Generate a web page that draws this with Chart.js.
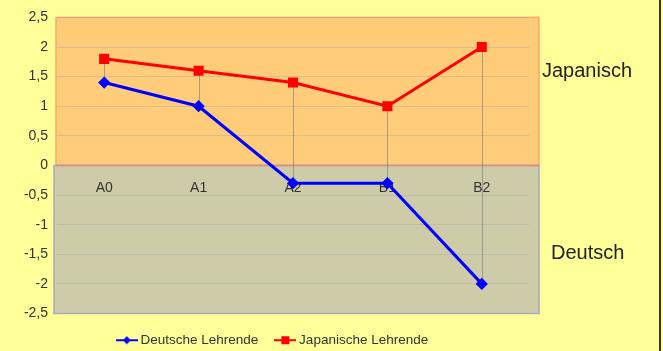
<!DOCTYPE html>
<html lang="de">
<head>
<meta charset="UTF-8">
<title>Lehrende</title>
<script src="https://cdn.jsdelivr.net/npm/chart.js"></script>
<style>
  html, body { margin: 0; padding: 0; background: #FFFF99; }
  canvas { display: block; }
</style>
</head>
<body>
<canvas id="chart" width="663" height="351"></canvas>
<script>
const categories = ['A0', 'A1', 'A2', 'B1', 'B2'];
const deutscheLehrende = [1.4, 1.0, -0.3, -0.3, -2.0];
const japanischeLehrende = [1.8, 1.6, 1.4, 1.0, 2.0];
const yMin = -2.5, yMax = 2.5, yStep = 0.5;
const zoneLabels = ['Japanisch', 'Deutsch'];

const FONT = '"Liberation Sans", Arial, sans-serif';

// small legend symbols: line with the series marker in the middle
function legendSymbol(color, shape) {
  const c = document.createElement('canvas');
  c.width = 22; c.height = 10;
  const g = c.getContext('2d');
  g.strokeStyle = color; g.fillStyle = color; g.lineWidth = 2;
  g.beginPath(); g.moveTo(0, 5); g.lineTo(22, 5); g.stroke();
  g.beginPath();
  if (shape === 'diamond') {
    g.moveTo(11, 1); g.lineTo(15, 5); g.lineTo(11, 9); g.lineTo(7, 5);
  } else {
    g.rect(7, 1, 8, 8);
  }
  g.fill();
  return c;
}

const backdrop = {
  id: 'backdrop',
  beforeDraw(chart) {
    const { ctx, chartArea: a, scales: { y } } = chart;
    const zero = y.getPixelForValue(0);
    // the coloured panel runs a little past the last category
    const left = a.left - 1, right = a.right + 10;
    ctx.save();
    ctx.fillStyle = '#FFFF99';
    ctx.fillRect(0, 0, chart.width, chart.height);
    ctx.lineWidth = 1.5;
    // upper zone
    ctx.fillStyle = '#FFCC7A';
    ctx.fillRect(left, a.top, right - left, zero - a.top);
    ctx.strokeStyle = '#FFA868';
    ctx.strokeRect(left, a.top, right - left, zero - a.top);
    // lower zone
    ctx.fillStyle = '#CECCA8';
    ctx.fillRect(left - 2, zero, right - left + 2, a.bottom - zero);
    ctx.strokeStyle = '#A8A8C0';
    ctx.strokeRect(left - 2, zero, right - left + 2, a.bottom - zero);
    ctx.strokeStyle = '#F08070';
    ctx.beginPath(); ctx.moveTo(left, zero); ctx.lineTo(right, zero); ctx.stroke();
    // frame edge on the right
    ctx.fillStyle = '#333333';
    ctx.fillRect(chart.width - 4, 0, 2, chart.height);
    ctx.restore();
  },
  beforeDatasetsDraw(chart) {
    // high-low lines between the two series
    const { ctx, scales: { x, y } } = chart;
    ctx.save();
    ctx.strokeStyle = 'rgba(120,120,120,0.6)';
    ctx.lineWidth = 1;
    categories.forEach((c, i) => {
      const px = Math.round(x.getPixelForValue(i)) + 0.5;
      const hi = Math.max(deutscheLehrende[i], japanischeLehrende[i]);
      const lo = Math.min(deutscheLehrende[i], japanischeLehrende[i]);
      ctx.beginPath();
      ctx.moveTo(px, y.getPixelForValue(hi));
      ctx.lineTo(px, y.getPixelForValue(lo));
      ctx.stroke();
    });
    ctx.restore();
  },
  afterDraw(chart) {
    const { ctx, chartArea: a, scales: { y } } = chart;
    ctx.save();
    ctx.fillStyle = '#222222';
    ctx.font = '20px ' + FONT;
    ctx.textBaseline = 'middle';
    ctx.fillText(zoneLabels[0], a.right + 13, y.getPixelForValue(1.58));
    ctx.fillText(zoneLabels[1], a.right + 22, y.getPixelForValue(-1.48));
    ctx.restore();
  }
};

new Chart(document.getElementById('chart'), {
  type: 'line',
  data: {
    labels: categories,
    datasets: [
      {
        label: 'Deutsche Lehrende',
        data: deutscheLehrende,
        borderColor: '#0000FF',
        backgroundColor: '#0000FF',
        borderWidth: 3,
        pointStyle: 'rectRot',
        pointRadius: 4,
        tension: 0
      },
      {
        label: 'Japanische Lehrende',
        data: japanischeLehrende,
        borderColor: '#FF0000',
        backgroundColor: '#FF0000',
        borderWidth: 3,
        pointStyle: 'rect',
        pointRadius: 5,
        tension: 0
      }
    ]
  },
  options: {
    responsive: false,
    devicePixelRatio: 1,
    animation: false,
    layout: { padding: { left: 19, right: 134, top: 15, bottom: -6 } },
    scales: {
      x: {
        position: { y: 0 },
        offset: true,
        grid: { display: false, drawTicks: false },
        border: { display: false },
        ticks: {
          padding: 14,
          color: '#333333',
          font: { family: FONT, size: 14 }
        }
      },
      y: {
        min: yMin,
        max: yMax,
        afterFit(scale) { scale.width = 38; },
        grid: { color: 'rgba(170,170,170,0.45)', drawTicks: false },
        border: { display: false },
        ticks: {
          stepSize: yStep,
          padding: 9,
          color: '#333333',
          font: { family: FONT, size: 14 },
          callback: v => String(v).replace('.', ',')
        }
      }
    },
    plugins: {
      tooltip: { enabled: false },
      legend: {
        position: 'bottom',
        labels: {
          usePointStyle: true,
          pointStyleWidth: 14,
          padding: 20,
          color: '#333333',
          font: { family: FONT, size: 13.5 },
          generateLabels(chart) {
            return chart.data.datasets.map((ds, i) => ({
              text: ds.label,
              pointStyle: legendSymbol(ds.borderColor, i === 0 ? 'diamond' : 'square'),
              fillStyle: ds.borderColor,
              strokeStyle: ds.borderColor,
              lineWidth: 0,
              fontColor: '#333333',
              datasetIndex: i,
              hidden: false
            }));
          }
        }
      }
    }
  },
  plugins: [backdrop]
});
</script>
</body>
</html>
